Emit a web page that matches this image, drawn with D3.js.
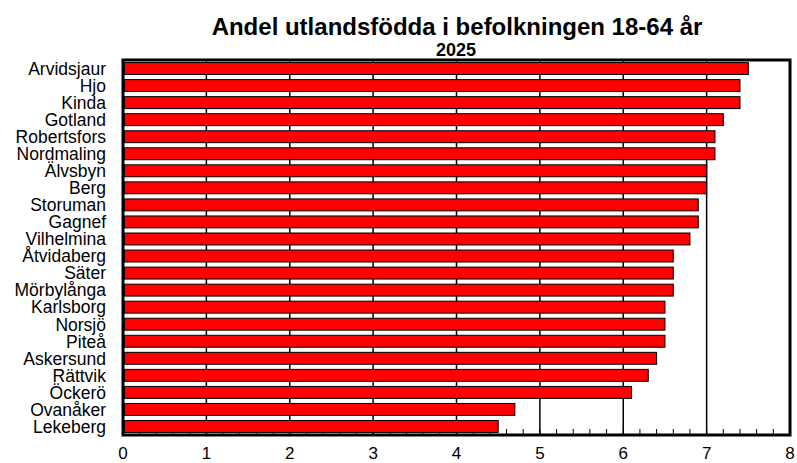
<!DOCTYPE html>
<html>
<head>
<meta charset="utf-8">
<script src="https://cdn.jsdelivr.net/npm/d3@7"></script>
<style>
  body { margin: 0; background: #fff; }
  text { font-family: Arial, 'Liberation Sans', sans-serif; fill: #000; }
</style>
</head>
<body>
<div id="chart"></div>
<script>
const kommuner = ['Arvidsjaur', 'Hjo', 'Kinda', 'Gotland', 'Robertsfors', 'Nordmaling', 'Älvsbyn', 'Berg',
  'Storuman', 'Gagnef', 'Vilhelmina', 'Åtvidaberg', 'Säter', 'Mörbylånga', 'Karlsborg', 'Norsjö',
  'Piteå', 'Askersund', 'Rättvik', 'Öckerö', 'Ovanåker', 'Lekeberg']
const andel = [7.5, 7.4, 7.4, 7.2, 7.1, 7.1, 7.0, 7.0, 6.9, 6.9, 6.8, 6.6, 6.6, 6.6, 6.5, 6.5,
  6.5, 6.4, 6.3, 6.1, 4.7, 4.5]
const xTicks = [0, 1, 2, 3, 4, 5, 6, 7, 8]

const title = 'Andel utlandsfödda i befolkningen 18-64 år'
const subtitle = '2025'

let width = 797
let height = 463
let plot = { left: 123, right: 790, top: 60, bottom: 435 }

let svg = d3.select('#chart').append('svg')
  .attr('width', width)
  .attr('height', height)

let x = d3.scaleLinear()
  .domain([0, 8])
  .range([plot.left, plot.right])

let y = d3.scaleBand()
  .domain(kommuner)
  .range([plot.top, plot.bottom])
  .paddingInner(0.3)
  .paddingOuter(0.15)

// gridlines
svg.append('g')
  .selectAll('line')
  .data(xTicks.slice(1, -1))
  .enter().append('line')
  .attr('x1', d => x(d))
  .attr('x2', d => x(d))
  .attr('y1', plot.top)
  .attr('y2', plot.bottom)
  .style('stroke', '#000')
  .style('stroke-width', 1.5)

// minor ticks on bottom axis, pointing inwards
svg.append('g')
  .selectAll('line')
  .data(d3.range(0, 40).map(i => i / 5))
  .enter().append('line')
  .attr('x1', d => x(d))
  .attr('x2', d => x(d))
  .attr('y1', plot.bottom)
  .attr('y2', plot.bottom - 6)
  .style('stroke', '#000')
  .style('stroke-width', 1)

// bars
svg.append('g')
  .selectAll('rect')
  .data(kommuner)
  .enter().append('rect')
  .attr('x', x(0) + 1.5)
  .attr('y', d => y(d))
  .attr('width', (d, i) => x(andel[i]) - x(0) - 1.5)
  .attr('height', y.bandwidth())
  .style('fill', '#ff0000')
  .style('stroke', '#000')
  .style('stroke-width', 1)

// plot frame
svg.append('rect')
  .attr('x', plot.left)
  .attr('y', plot.top)
  .attr('width', plot.right - plot.left)
  .attr('height', plot.bottom - plot.top)
  .style('fill', 'none')
  .style('stroke', '#000')
  .style('stroke-width', 3)

// category labels
svg.append('g')
  .selectAll('text')
  .data(kommuner)
  .enter().append('text')
  .attr('x', 106)
  .attr('y', d => y(d) + y.bandwidth() / 2)
  .attr('dy', '0.36em')
  .style('text-anchor', 'end')
  .style('font-size', '17.5px')
  .text(d => d)

// x tick labels
svg.append('g')
  .selectAll('text')
  .data(xTicks)
  .enter().append('text')
  .attr('x', d => x(d))
  .attr('y', 459)
  .style('text-anchor', 'middle')
  .style('font-size', '17px')
  .text(d => d)

svg.append('text')
  .attr('x', 457)
  .attr('y', 35)
  .style('text-anchor', 'middle')
  .style('font-size', '24px')
  .style('font-weight', 'bold')
  .text(title)

svg.append('text')
  .attr('x', 456)
  .attr('y', 56)
  .style('text-anchor', 'middle')
  .style('font-size', '18px')
  .style('font-weight', 'bold')
  .text(subtitle)
</script>
</body>
</html>
